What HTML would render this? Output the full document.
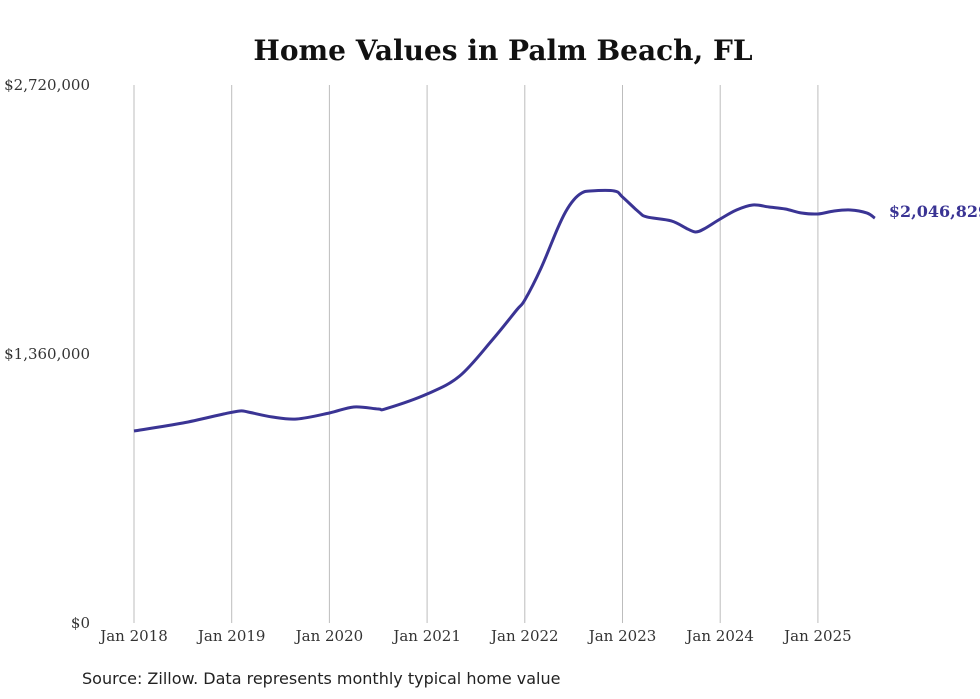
<!DOCTYPE html>
<html><head><meta charset="utf-8"><style>
html,body{margin:0;padding:0;background:#fff;width:980px;height:699px;overflow:hidden}
svg text{font-family:"DejaVu Serif","Liberation Serif",serif}
</style></head><body>
<svg id="chart" width="980" height="699" viewBox="0 0 980 699" xmlns="http://www.w3.org/2000/svg">
<text x="503" y="60" text-anchor="middle" font-size="28" font-weight="bold" fill="#111">Home Values in Palm Beach, FL</text>
<g id="grid"></g><g id="yticks"></g><g id="xticks"></g><g id="series"></g>
<text x="82" y="684" font-size="16" fill="#222" style="font-family:'DejaVu Sans','Liberation Sans',sans-serif">Source: Zillow. Data represents monthly typical home value</text>
</svg>
<script>
const monthIdx=[0,6,11,13,14,17,20,24,27,30,31,36,40,44,47,48,50,52,53,54,55,56,59,60,62,63,66,68,69,70,72,74,76,78,80,82,84,86,88,90,91];
const values=[970800,1011000,1056700,1071900,1066800,1041500,1031400,1061800,1092100,1082000,1084000,1157800,1248800,1430800,1582500,1633100,1794900,1992000,2078000,2138700,2174100,2184200,2184200,2153900,2078000,2052700,2032500,1992000,1976900,1992000,2042600,2088100,2113400,2103300,2093200,2073000,2068000,2083100,2088100,2073000,2046829];
const yTicks=[0,1360000,2720000];
const yTickLabels=["$0","$1,360,000","$2,720,000"];
const xTickYears=[2018,2019,2020,2021,2022,2023,2024,2025];
const endLabel="$2,046,829";
const NS="http://www.w3.org/2000/svg";
const x0=134,yearW=97.7,yTop=85,yBot=623,yMax=2720000;
const xs=m=>x0+m*yearW/12;
const ys=v=>yBot-(v/yMax)*(yBot-yTop);
function mk(tag,attrs,parent){const e=document.createElementNS(NS,tag);for(const k in attrs)e.setAttribute(k,attrs[k]);parent.appendChild(e);return e;}
const grid=document.getElementById('grid'),xt=document.getElementById('xticks'),yt=document.getElementById('yticks'),se=document.getElementById('series');
xTickYears.forEach(yr=>{
  const x=xs((yr-2018)*12);
  const l=mk('line',{x1:x,x2:x,y1:yTop,y2:yBot,stroke:'#bdbdbd','stroke-width':1},grid);
  
  
  const t=mk('text',{x:x,y:yBot+18,'text-anchor':'middle','font-size':15,fill:'#333'},xt);
  t.textContent='Jan '+yr;
  
  
});
yTicks.forEach((v,i)=>{
  const t=mk('text',{x:90,y:ys(v)+5,'text-anchor':'end','font-size':15,fill:'#333'},yt);
  t.textContent=yTickLabels[i];
  
  
});
const pts=monthIdx.map((m,i)=>[xs(m),ys(values[i])]);
let d='M'+pts[0][0]+','+pts[0][1];
for(let i=1;i<pts.length;i++){
  const p0=pts[i-2]||pts[i-1],p1=pts[i-1],p2=pts[i],p3=pts[i+1]||p2;
  const c1=[p1[0]+(p2[0]-p0[0])/6,p1[1]+(p2[1]-p0[1])/6],c2=[p2[0]-(p3[0]-p1[0])/6,p2[1]-(p3[1]-p1[1])/6];
  d+=' C'+c1+' '+c2+' '+p2;
}
const path=mk('path',{d:d,fill:'none',stroke:'#3a3494','stroke-width':3,'stroke-linejoin':'round'},se);


const last=pts[pts.length-1];
const lab=mk('text',{x:last[0]+14,y:last[1]-1,'font-size':16,'font-weight':'bold',fill:'#3a3494'},se);
lab.textContent=endLabel;


</script>
</body></html>
